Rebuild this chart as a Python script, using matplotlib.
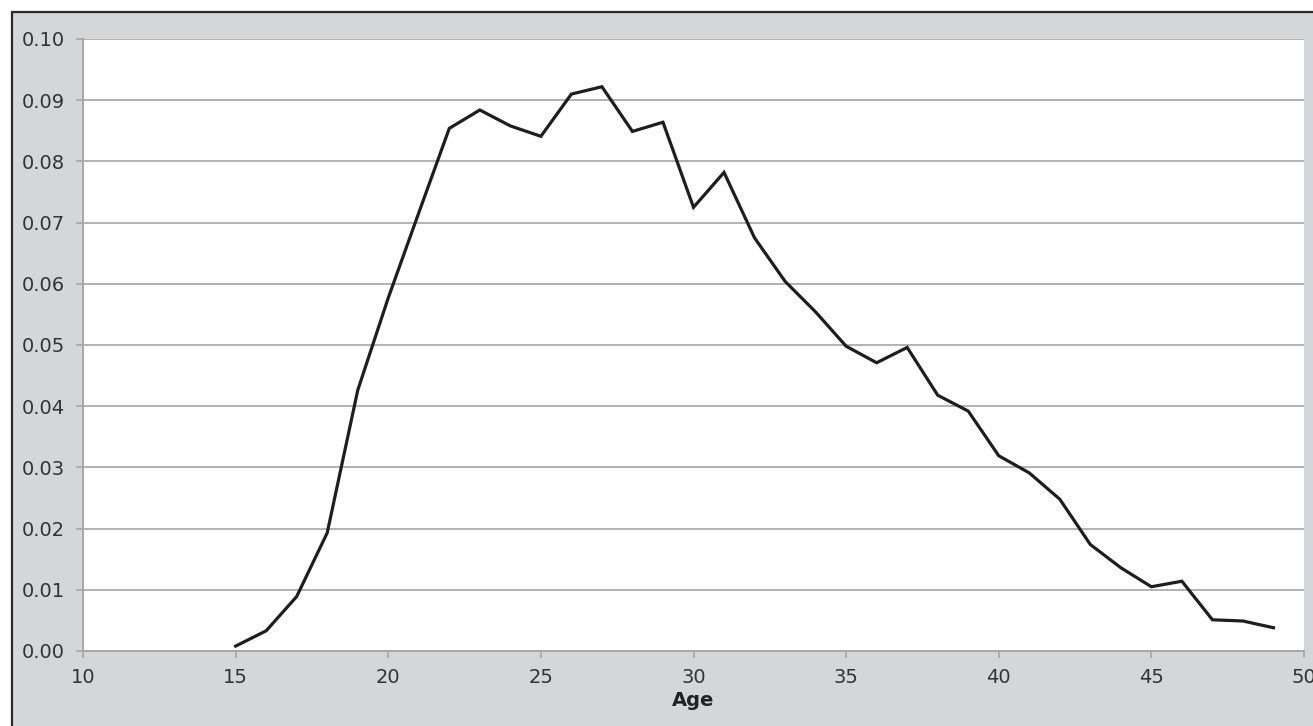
import numpy as np
from matplotlib import pyplot as plt
from matplotlib.patches import Rectangle

# data
ages = list(range(15, 50))
share = [0.0008, 0.0033, 0.0089, 0.0193, 0.0426, 0.0577, 0.0716, 0.0854, 0.0884, 0.0858,
         0.0841, 0.0910, 0.0922, 0.0849, 0.0864, 0.0725, 0.0782, 0.0675, 0.0604, 0.0554,
         0.0498, 0.0471, 0.0496, 0.0418, 0.0392, 0.0319, 0.0291, 0.0248, 0.0174, 0.0136,
         0.0105, 0.0114, 0.0051, 0.0049, 0.0038]
x_ticks = [10, 15, 20, 25, 30, 35, 40, 45, 50]
y_ticks = [0.00, 0.01, 0.02, 0.03, 0.04, 0.05, 0.06, 0.07, 0.08, 0.09, 0.10]

W, H = 1313, 726
bg = '#d5d6d8'
grid_c = '#a6a6a6'
text_c = '#333333'

fig = plt.figure(figsize=(W / 100, H / 100), dpi=100)
fig.patch.set_facecolor('white')

# gray frame with dark border (cut off at right and bottom)
frame = Rectangle((12 / W, -0.05), 1.1, 1 - 12 / H + 0.05, transform=fig.transFigure,
                  facecolor=bg, edgecolor='#2a2a2a', linewidth=1.6, zorder=-10)
fig.patches.append(frame)

ax = fig.add_axes([83 / W, 75 / H, (1304 - 83) / W, (651 - 39) / H])
ax.set_facecolor('white')

ax.plot(ages, share, color='#1e1e1e', linewidth=2.3, solid_joinstyle='miter', zorder=3)

ax.set_xlim(10, 50)
ax.set_ylim(0, 0.10)
ax.set_xticks(x_ticks)
ax.set_yticks(y_ticks)
ax.set_yticklabels([f'{v:.2f}' for v in y_ticks])

ax.grid(axis='y', color=grid_c, linewidth=1.2)
ax.set_axisbelow(True)

for s in ['top', 'right']:
    ax.spines[s].set_visible(False)
for s in ['left', 'bottom']:
    ax.spines[s].set_color(grid_c)
    ax.spines[s].set_linewidth(1.4)

ax.tick_params(axis='both', colors=grid_c, labelcolor=text_c, labelsize=14,
               length=5, width=1.2, direction='out')
ax.tick_params(axis='y', pad=8)
ax.tick_params(axis='x', pad=7)

ax.set_xlabel('Age', fontsize=14, fontweight='bold', color='#222222', labelpad=3)

fig.savefig('out.png', dpi=100)
